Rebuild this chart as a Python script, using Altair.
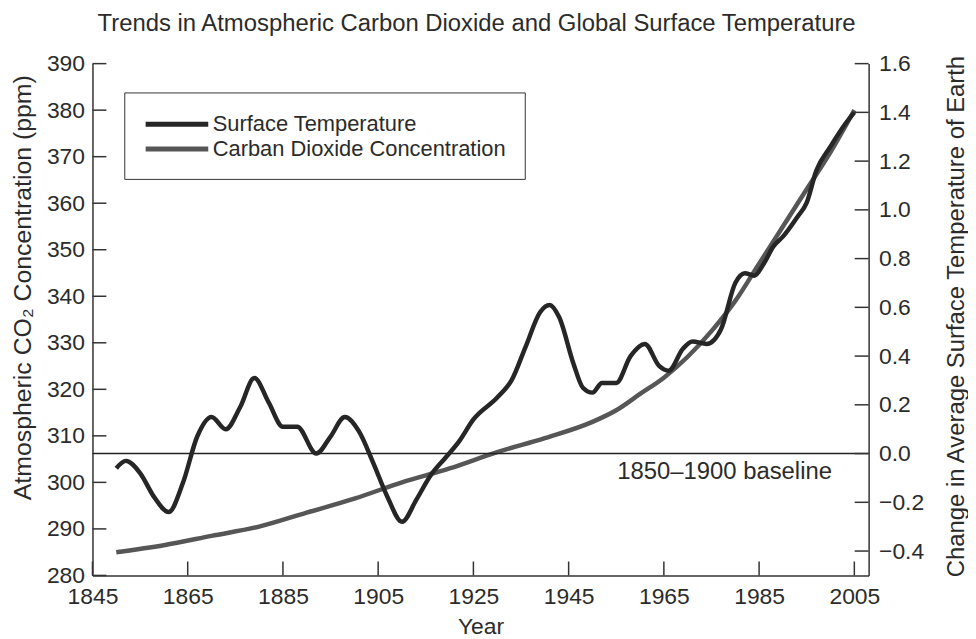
import altair as alt
import pandas as pd

FONT = "Liberation Sans"
TXT = "#2b2b2b"

# ---------------- data ----------------
co2_years = [1850, 1860, 1870, 1880, 1890, 1900, 1910, 1920, 1930, 1940,
             1950, 1955, 1960, 1965, 1970, 1975, 1980, 1985, 1990, 1995, 2000, 2005]
co2_ppm = [285, 286.5, 288.5, 290.5, 293.5, 296.5, 300, 303, 306.5, 309.5,
           313, 315.5, 319, 322.5, 327, 332.5, 339, 347, 355, 363, 371, 380]

temp_years = [1850, 1852, 1855, 1858, 1861, 1864, 1867, 1870, 1873, 1876, 1879,
              1882, 1885, 1888, 1892, 1895, 1898, 1901, 1904, 1907, 1910, 1913,
              1916, 1919, 1922, 1925, 1930, 1933, 1936, 1939, 1941, 1943, 1946,
              1948, 1950, 1952, 1955, 1958, 1961, 1964, 1966, 1969, 1971, 1974,
              1977, 1980, 1982, 1984, 1986, 1988, 1990, 1993, 1995, 1997, 2000,
              2003, 2005]
temp_anom = [-0.06, -0.03, -0.08, -0.18, -0.24, -0.12, 0.07, 0.15, 0.10, 0.19, 0.31,
             0.21, 0.11, 0.11, 0.00, 0.07, 0.15, 0.09, -0.04, -0.18, -0.28, -0.19,
             -0.09, -0.02, 0.05, 0.14, 0.23, 0.30, 0.44, 0.58, 0.61, 0.56, 0.37,
             0.27, 0.25, 0.29, 0.29, 0.40, 0.45, 0.36, 0.34, 0.43, 0.46, 0.45,
             0.51, 0.70, 0.74, 0.73, 0.78, 0.85, 0.89, 0.97, 1.03, 1.16, 1.26,
             1.35, 1.40]

series_names = ["Surface Temperature", "Carban Dioxide Concentration"]
series_colors = ["#262626", "#565656"]

x_ticks = [1845, 1865, 1885, 1905, 1925, 1945, 1965, 1985, 2005]
ppm_ticks = [280, 290, 300, 310, 320, 330, 340, 350, 360, 370, 380, 390]
temp_ticks = [-0.4, -0.2, 0.0, 0.2, 0.4, 0.6, 0.8, 1.0, 1.2, 1.4, 1.6]

baseline_value = [0.0]
baseline_label = ["1850\u20131900 baseline"]
baseline_label_year = [2000.3]

x_domain = [1845, 2008]
ppm_domain = [280, 390]
temp_domain = [-0.5, 1.6]

W, H = 781, 515
TICK = 14

# ---------------- frames ----------------
co2_df = pd.DataFrame({"year": co2_years, "ppm": co2_ppm, "series": series_names[1]})
temp_df = pd.DataFrame({"year": temp_years, "temp": temp_anom, "series": series_names[0]})
xt_df = pd.DataFrame({"year": x_ticks})
pt_df = pd.DataFrame({"ppm": ppm_ticks})
tt_df = pd.DataFrame({"temp": temp_ticks})
base_df = pd.DataFrame({"temp": baseline_value})
lab_df = pd.DataFrame({"year": baseline_label_year, "temp": baseline_value, "txt": baseline_label})

xscale = alt.Scale(domain=x_domain, nice=False, zero=False)
pscale = alt.Scale(domain=ppm_domain, nice=False, zero=False)
tscale = alt.Scale(domain=temp_domain, nice=False, zero=False)

x_axis = alt.Axis(values=x_ticks, format="d", ticks=False, labelPadding=10, labelFlush=False,
                  title="Year", titleY=58, titleBaseline="alphabetic")
p_axis = alt.Axis(values=ppm_ticks, ticks=False, labelPadding=8,
                  title="Atmospheric CO\u2082 Concentration (ppm)", titleFontSize=25,
                  titleX=-70, titleY=225, titleBaseline="middle", titleAngle=270)
t_axis = alt.Axis(orient="right", values=temp_ticks, format=".1f", ticks=False,
                  labelPadding=10,
                  title="Change in Average Surface Temperature of Earth", titleFontSize=24,
                  titleX=88, titleY=254, titleBaseline="middle", titleAngle=270)

X = alt.X("year:Q", scale=xscale, axis=x_axis)
YP = alt.Y("ppm:Q", scale=pscale, axis=p_axis)
YT = alt.Y("temp:Q", scale=tscale, axis=t_axis)

color = alt.Color(
    "series:N",
    scale=alt.Scale(domain=series_names, range=series_colors),
    legend=alt.Legend(
        title=None, orient="none", legendX=32, legendY=29,
        strokeColor="#333", fillColor="white", padding=19,
        symbolType="M-1,0H5", symbolSize=441, symbolStrokeWidth=5,
        labelFontSize=22, labelFont=FONT, labelColor=TXT,
        labelOffset=44, rowPadding=1, labelLimit=400,
    ),
)

co2_line = alt.Chart(co2_df).mark_line(strokeWidth=4.5, interpolate="monotone").encode(
    x=X, y=YP, color=color,
)
left_ticks = alt.Chart(pt_df).mark_rule(color="#333", strokeWidth=1.5).encode(
    y=YP, x=alt.value(0), x2=alt.value(TICK),
)
bottom_ticks = alt.Chart(xt_df).mark_rule(color="#333", strokeWidth=1.5).encode(
    x=X, y=alt.value(H - TICK), y2=alt.value(H),
)
left = alt.layer(co2_line, left_ticks, bottom_ticks)

temp_line = alt.Chart(temp_df).mark_line(strokeWidth=4.5, interpolate="monotone").encode(
    x=X, y=YT, color=color,
)
right_ticks = alt.Chart(tt_df).mark_rule(color="#333", strokeWidth=1.5).encode(
    y=YT, x=alt.value(W - TICK), x2=alt.value(W),
)
base_rule = alt.Chart(base_df).mark_rule(color="#222", strokeWidth=1.5).encode(
    y=YT, x=alt.value(0), x2=alt.value(W),
)
base_text = alt.Chart(lab_df).mark_text(align="right", baseline="middle", dy=19,
                                        fontSize=24, font=FONT, color=TXT).encode(
    x=X, y=YT, text="txt:N",
)
right = alt.layer(base_rule, right_ticks, base_text, temp_line)

chart = alt.layer(left, right).resolve_scale(y="independent").properties(
    width=W, height=H,
    autosize=alt.AutoSizeParams(type="none"),
    padding={"left": 85, "top": 54, "right": 100, "bottom": 62},
    title=alt.TitleParams(
        "Trends in Atmospheric Carbon Dioxide and Global Surface Temperature",
        fontSize=24, font=FONT, fontWeight="normal", color=TXT,
        anchor="middle", offset=17, dx=-4,
    ),
).configure_view(stroke=None).configure_axis(
    domainColor="#333", domainWidth=1.5, grid=False,
    labelFont=FONT, labelFontSize=23, labelColor=TXT,
    titleFont=FONT, titleFontSize=23, titleColor=TXT, titleFontWeight="normal",
)

chart.save("out.html", embed_options={"renderer": "svg", "actions": False})
